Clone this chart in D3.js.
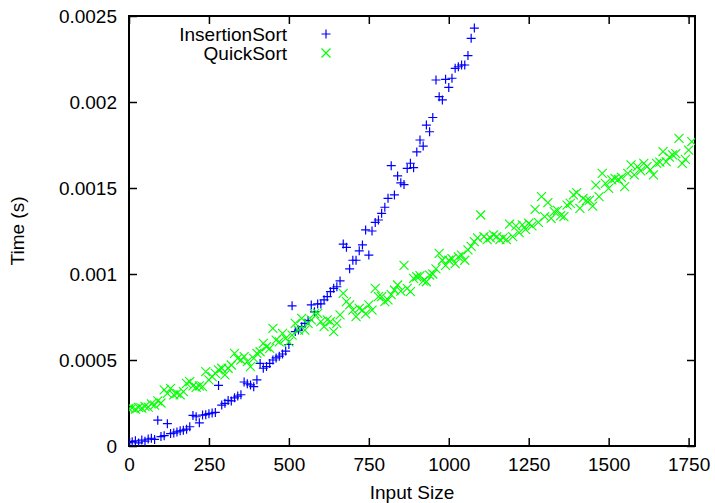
<!DOCTYPE html>
<html>
<head>
<meta charset="utf-8">
<script src="https://cdn.jsdelivr.net/npm/d3@7"></script>
<style>
  html, body { margin: 0; padding: 0; background: #fff; }
  svg { display: block; font-family: "Liberation Sans", Arial, Helvetica, sans-serif; }
  .axis text { font-size: 19px; fill: #000; }
  .axis path { display: none; }
  .axis line { stroke: #000; stroke-width: 1.5; }
</style>
</head>
<body>
<svg id="chart" width="715" height="503"></svg>
<script>
// Input sizes and measured times (microseconds) for the two sorts
const insertionSizes = d3.range(0, 1081, 10);
const insertionTimesUs = [
  20, 25, 30, 18, 35, 28, 40, 45, 38, 150,
  55, 60, 130, 72, 75, 82, 88, 92, 98, 112,
  178, 170, 135, 180, 182, 188, 192, 195, 352, 238,
  248, 265, 262, 280, 290, 298, 372, 362, 355, 345,
  385, 480, 452, 462, 480, 500, 512, 522, 535, 552,
  590, 815, 665, 674, 694, 713, 730, 820, 780, 826,
  826, 850, 868, 897, 917, 926, 960, 1174, 1155, 1030,
  1080, 1080, 1135, 1169, 1256, 1110, 1250, 1300, 1314, 1353,
  1388, 1440, 1630, 1460, 1570, 1530, 1520, 1614, 1644, 1618,
  1710, 1779, 1744, 1866, 1827, 1910, 2128, 2031, 2012, 2132,
  2085, 2138, 2196, 2205, 2215, 2215, 2270, 2370, 2430
];

const quickSizes = d3.range(0, 1761, 10);
const quickTimesUs = [
  218, 222, 215, 224, 220, 230, 226, 245, 238, 262,
  250, 326, 306, 335, 297, 306, 297, 316, 364, 374,
  349, 341, 349, 345, 432, 384, 403, 422, 442, 452,
  413, 452, 471, 539, 510, 500, 519, 490, 461, 510,
  539, 548, 597, 577, 568, 684, 616, 606, 655, 626,
  606, 645, 713, 674, 742, 674, 713, 733, 770, 771,
  723, 694, 733, 723, 665, 713, 762, 888, 839, 820,
  790, 752, 800, 790, 768, 820, 790, 917, 868, 868,
  840, 850, 880, 907, 936, 900, 1050, 917, 897, 975,
  984, 990, 960, 955, 994, 1000, 1030, 1120, 1080, 1050,
  1080, 1090, 1060, 1100, 1110, 1080, 1140, 1160, 1188, 1210,
  1343, 1217, 1200, 1210, 1227, 1217, 1200, 1210, 1200, 1290,
  1217, 1280, 1240, 1285, 1260, 1295, 1280, 1376, 1300, 1450,
  1333, 1415, 1324, 1362, 1370, 1340, 1333, 1400, 1410, 1460,
  1473, 1382, 1440, 1426, 1430, 1395, 1517, 1450, 1585, 1527,
  1498, 1547, 1556, 1550, 1562, 1508, 1585, 1634, 1576, 1624,
  1600, 1643, 1624, 1605, 1576, 1643, 1650, 1711, 1653, 1680,
  1692, 1700, 1789, 1643, 1667, 1720, 1770
];

const seriesNames = ["InsertionSort", "QuickSort"];
const seriesColors = ["#0000ff", "#00ff00"];

const xTicks = [0, 250, 500, 750, 1000, 1250, 1500, 1750];
const xTickLabels = ["0", "250", "500", "750", "1000", "1250", "1500", "1750"];
const yTicks = [0, 0.0005, 0.001, 0.0015, 0.002, 0.0025];
const yTickLabels = ["0", "0.0005", "0.001", "0.0015", "0.002", "0.0025"];

const xLabel = "Input Size";
const yLabel = "Time (s)";

// Layout
const plot = { left: 129, right: 695, top: 16, bottom: 446 };

const svg = d3.select("#chart");

const x = d3.scaleLinear().domain([0, 1770]).range([plot.left, plot.right]);
const y = d3.scaleLinear().domain([0, 0.0025]).range([plot.bottom, plot.top]);

const tick = 8;

// Bottom axis with labels, ticks pointing inward
svg.append("g").attr("class", "axis")
  .attr("transform", `translate(0,${plot.bottom})`)
  .call(d3.axisBottom(x).tickValues(xTicks)
    .tickFormat((d, i) => xTickLabels[i])
    .tickSizeInner(-tick).tickSizeOuter(0).tickPadding(12));

// Top mirror ticks
svg.append("g").attr("class", "axis")
  .attr("transform", `translate(0,${plot.top})`)
  .call(d3.axisTop(x).tickValues(xTicks).tickFormat("")
    .tickSizeInner(-tick).tickSizeOuter(0));

// Left axis with labels
svg.append("g").attr("class", "axis")
  .attr("transform", `translate(${plot.left},0)`)
  .call(d3.axisLeft(y).tickValues(yTicks)
    .tickFormat((d, i) => yTickLabels[i])
    .tickSizeInner(-tick).tickSizeOuter(0).tickPadding(12));

// Right mirror ticks
svg.append("g").attr("class", "axis")
  .attr("transform", `translate(${plot.right},0)`)
  .call(d3.axisRight(y).tickValues(yTicks).tickFormat("")
    .tickSizeInner(-tick).tickSizeOuter(0));

// Frame
svg.append("rect")
  .attr("x", plot.left).attr("y", plot.top)
  .attr("width", plot.right - plot.left).attr("height", plot.bottom - plot.top)
  .attr("fill", "none").attr("stroke", "#000").attr("stroke-width", 2);

// Axis titles
svg.append("text")
  .attr("x", (plot.left + plot.right) / 2).attr("y", 499)
  .attr("text-anchor", "middle").attr("font-size", 19)
  .text(xLabel);

svg.append("text")
  .attr("transform", `translate(24,${(plot.top + plot.bottom) / 2}) rotate(-90)`)
  .attr("text-anchor", "middle").attr("font-size", 19)
  .text(yLabel);

// Marker paths
const plusPath = (cx, cy, r) => `M${cx - r},${cy}h${2 * r}M${cx},${cy - r}v${2 * r}`;
const crossPath = (cx, cy, r) => `M${cx - r},${cy - r}L${cx + r},${cy + r}M${cx - r},${cy + r}L${cx + r},${cy - r}`;

const insertionData = insertionSizes.map((n, i) => ({ n, t: insertionTimesUs[i] * 1e-6 }));
const quickData = quickSizes.map((n, i) => ({ n, t: quickTimesUs[i] * 1e-6 }));

svg.append("clipPath").attr("id", "plotclip")
  .append("rect")
  .attr("x", plot.left).attr("y", plot.top)
  .attr("width", plot.right - plot.left).attr("height", plot.bottom - plot.top);

const marks = svg.append("g").attr("clip-path", "url(#plotclip)");

marks.append("g").selectAll("path").data(insertionData).join("path")
  .attr("d", d => plusPath(x(d.n), y(d.t), 4.5))
  .attr("stroke", seriesColors[0]).attr("stroke-width", 1.2).attr("fill", "none");

marks.append("g").selectAll("path").data(quickData).join("path")
  .attr("d", d => crossPath(x(d.n), y(d.t), 4.5))
  .attr("stroke", seriesColors[1]).attr("stroke-width", 1.1).attr("fill", "none");

// Legend
const legendTextX = 287, legendMarkX = 326;
const legendRows = [34, 53];
const legend = svg.append("g");
seriesNames.forEach((name, i) => {
  legend.append("text")
    .attr("x", legendTextX).attr("y", legendRows[i]).attr("dy", "0.35em")
    .attr("text-anchor", "end").attr("font-size", 19)
    .text(name);
  legend.append("path")
    .attr("d", i === 0 ? plusPath(legendMarkX, legendRows[i], 4.5) : crossPath(legendMarkX, legendRows[i], 4.5))
    .attr("stroke", seriesColors[i]).attr("stroke-width", 1.2).attr("fill", "none");
});
</script>
</body>
</html>
